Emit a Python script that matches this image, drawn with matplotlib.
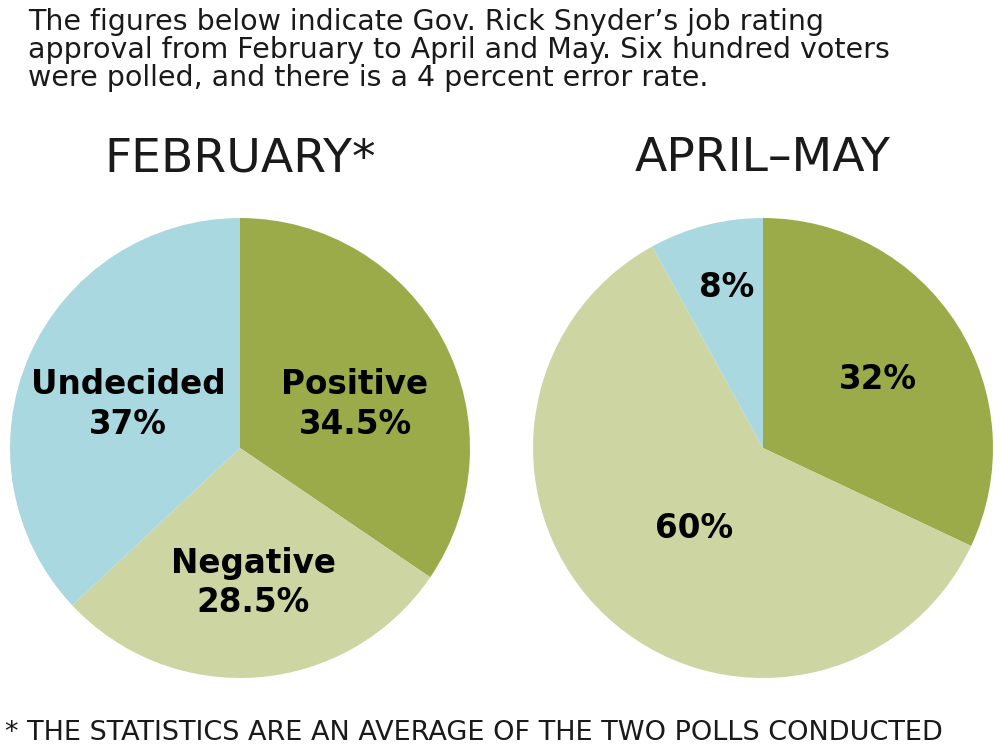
import matplotlib
matplotlib.use("Agg")
import matplotlib.pyplot as plt

feb_labels = ["Positive", "Negative", "Undecided"]
feb_values = [34.5, 28.5, 37]
apr_values = [32, 60, 8]
colors = ["#9BAB4A", "#CDD5A2", "#A9D8E0"]

fig = plt.figure(figsize=(10, 7.5), dpi=100)
fig.patch.set_facecolor("white")

fig.text(0.028, 0.99, "The figures below indicate Gov. Rick Snyder\u2019s job rating\n"
         "approval from February to April and May. Six hundred voters\n"
         "were polled, and there is a 4 percent error rate.",
         ha="left", va="top", fontsize=20.5, linespacing=1.0, color="#1a1a1a")
fig.text(0.005, 0.005, "* THE STATISTICS ARE AN AVERAGE OF THE TWO POLLS CONDUCTED",
         ha="left", va="bottom", fontsize=19.5, color="#1a1a1a")

def draw(rect, values, labels, positions, title):
    ax = fig.add_axes(rect)
    ax.pie(values, colors=colors, startangle=90, counterclock=False, radius=1)
    ax.set_xlim(-1, 1); ax.set_ylim(-1, 1); ax.set_aspect("equal")
    ax.axis("off")
    for lab, (x, y) in zip(labels, positions):
        ax.text(x, y, lab, ha="center", va="center", fontsize=23.5, fontweight="bold",
                linespacing=1.25, color="black")
    ax.text(0, 1.16, title, ha="center", va="bottom", fontsize=34, color="#1a1a1a")

draw([0.01, 0.096, 0.46, 0.6133], feb_values,
     [f"{l}\n{v:g}%" for l, v in zip(feb_labels, feb_values)],
     [(0.5, 0.19), (0.057, -0.587), (-0.487, 0.19)], "FEBRUARY*")
draw([0.533, 0.096, 0.46, 0.6133], apr_values,
     [f"{v:g}%" for v in apr_values],
     [(0.5, 0.3), (-0.3, -0.35), (-0.157, 0.7)], "APRIL\u2013MAY")

fig.savefig("out.png", dpi=100)
